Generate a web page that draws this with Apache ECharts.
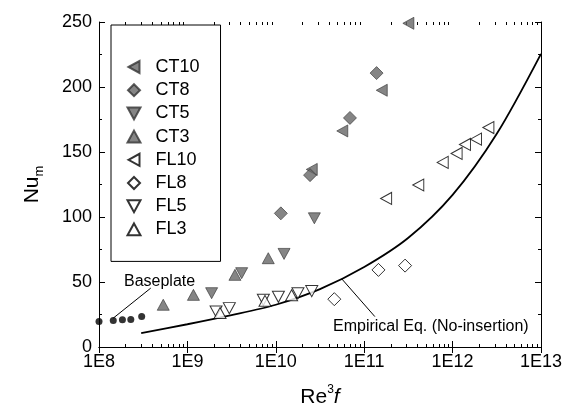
<!DOCTYPE html>
<html>
<head>
<meta charset="utf-8">
<script src="https://cdn.jsdelivr.net/npm/echarts@6/dist/echarts.min.js"></script>
<style>
html, body { margin: 0; padding: 0; background: #fff; }
#chart { width: 577px; height: 415px; }
</style>
</head>
<body>
<div id="chart"></div>
<script>
// tick labels
var xTickLabels = ['1E8', '1E9', '1E10', '1E11', '1E12', '1E13'];
var yTickLabels = ['0', '50', '100', '150', '200', '250'];

// data (x = Re^3 f, y = Nu_m)
var ct10X = [2.55e10, 5.65e10, 1.58e11, 3.16e11];
var ct10Y = [136.6, 166.2, 197.5, 249];
var ct8X = [1.14e10, 2.44e10, 6.9e10, 1.38e11];
var ct8Y = [102.8, 132.2, 176.2, 210.7];
var ct5X = [1.88e9, 4.11e9, 1.24e10, 2.73e10];
var ct5Y = [41.4, 56.8, 71.6, 99.0];
var ct3X = [5.33e8, 1.17e9, 3.45e9, 8.22e9];
var ct3Y = [32.5, 40.1, 55.5, 68.3];
var fl10X = [1.77e11, 4.09e11, 7.73e11, 1.11e12, 1.38e12, 1.84e12, 2.54e12];
var fl10Y = [114.3, 124.6, 142.0, 148.9, 155.8, 159.9, 168.8];
var fl8X = [4.59e10, 1.45e11, 2.9e11];
var fl8Y = [36.8, 59.3, 62.6];
var fl5X = [2.11e9, 2.98e9, 7.23e9, 1.07e10, 1.78e10, 2.55e10];
var fl5Y = [27.3, 29.9, 36.3, 38.6, 41.4, 43.0];
var fl3X = [2.34e9, 7.55e9, 1.51e10];
var fl3Y = [26.1, 35.5, 39.8];
var baseX = [1.0e8, 1.45e8, 1.84e8, 2.29e8, 3.04e8];
var baseY = [19.6, 20.4, 21.0, 21.2, 23.5];
// empirical correlation (no insertion)
var empX = [3.0e8, 1e9, 3.16e9, 1e10, 3.16e10, 1e11, 3.16e11, 1e12, 3.16e12, 1e13];
var empY = [10.7, 17.5, 24.5, 32.5, 44.5, 61.5, 84, 117, 164, 225.5];

function pairs(xs, ys) {
  return xs.map(function (x, i) { return [x, ys[i]]; });
}

// minor tick positions (log10 space) for 2..9 inside every decade
var minorTicks = [];
for (var d = 8; d < 13; d++) {
  for (var k = 2; k <= 9; k++) minorTicks.push(d + Math.log10(k));
}

var FONT = 'Liberation Sans';
var GRAY = '#666666';

var LEFT_TRI = 'path://M0,6L11,0L11,12Z';
var DOWN_TRI = 'path://M0,0L12,0L6,11Z';
var UP_TRI = 'path://M6,0L12,11L0,11Z';
var DIAMOND = 'path://M6.5,0L13,6.5L6.5,13L0,6.5Z';

function marker(name, xs, ys, symbol, size, filled) {
  return {
    name: name,
    type: 'scatter',
    data: pairs(xs, ys),
    symbol: symbol,
    symbolSize: size,
    itemStyle: {
      color: filled ? GRAY : '#ffffff',
      borderColor: filled ? '#333333' : '#000000',
      borderWidth: filled ? 0.8 : 1
    },
    emphasis: { disabled: true },
    z: 3
  };
}

var chart = echarts.init(document.getElementById('chart'), null, { renderer: 'canvas' });

var tickAxis = function (pos) {
  return {
    type: 'value',
    position: pos,
    min: 8,
    max: 13,
    axisLine: { show: false },
    axisTick: { show: true, inside: true, length: 3, customValues: minorTicks, lineStyle: { color: '#000' } },
    axisLabel: { show: false },
    splitLine: { show: false }
  };
};

var option = {
  backgroundColor: '#ffffff',
  animation: false,
  textStyle: { fontFamily: FONT },
  grid: { left: 99, right: 36, top: 22, bottom: 68, containLabel: false, outerBoundsMode: 'none' },
  legend: {
    data: [
      { name: 'CT10', icon: LEFT_TRI },
      { name: 'CT8', icon: DIAMOND },
      { name: 'CT5', icon: DOWN_TRI },
      { name: 'CT3', icon: UP_TRI },
      { name: 'FL10', icon: LEFT_TRI },
      { name: 'FL8', icon: DIAMOND },
      { name: 'FL5', icon: DOWN_TRI },
      { name: 'FL3', icon: UP_TRI }
    ],
    orient: 'vertical',
    left: 111,
    top: 25,
    padding: [33, 21, 23, 15.5],
    itemWidth: 13,
    itemHeight: 12,
    itemGap: 5.2,
    symbolKeepAspect: true,
    borderColor: '#000',
    borderWidth: 1,
    borderRadius: 0,
    backgroundColor: 'transparent',
    selectedMode: false,
    textStyle: { fontFamily: FONT, fontSize: 18, lineHeight: 18, color: '#000', padding: [0, 0, 0, 10] }
  },
  xAxis: [
    {
      type: 'log',
      logBase: 10,
      min: 1e8,
      max: 1e13,
      position: 'bottom',
      name: '{a|Re}{s|3}{f|f}',
      nameLocation: 'middle',
      nameGap: 37,
      nameTextStyle: {
        rich: {
          a: { fontFamily: FONT, fontSize: 21, color: '#000', verticalAlign: 'bottom', lineHeight: 24 },
          s: { fontFamily: FONT, fontSize: 12, color: '#000', verticalAlign: 'top', lineHeight: 12 },
          f: { fontFamily: FONT, fontSize: 21, color: '#000', fontStyle: 'italic', verticalAlign: 'bottom', lineHeight: 24 }
        }
      },
      axisLine: { show: true, lineStyle: { color: '#000', width: 1 } },
      axisTick: { show: true, inside: true, length: 6, lineStyle: { color: '#000' } },
      minorTick: { show: false },
      axisLabel: {
        margin: 6,
        fontFamily: FONT,
        fontSize: 18,
        color: '#000',
        formatter: function (v) { return xTickLabels[Math.round(Math.log10(v)) - 8]; }
      },
      splitLine: { show: false }
    },
    {
      type: 'log',
      logBase: 10,
      min: 1e8,
      max: 1e13,
      position: 'top',
      axisLine: { show: true, lineStyle: { color: '#000', width: 1 } },
      axisTick: { show: true, inside: true, length: 6, lineStyle: { color: '#000' } },
      axisLabel: { show: false },
      splitLine: { show: false }
    },
    tickAxis('bottom'),
    tickAxis('top')
  ],
  yAxis: [
    {
      type: 'value',
      min: 0,
      max: 250,
      interval: 50,
      position: 'left',
      name: '{a|Nu}{b|m}',
      nameLocation: 'middle',
      nameRotate: 90,
      nameGap: 53,
      nameTextStyle: {
        rich: {
          a: { fontFamily: FONT, fontSize: 21, color: '#000', verticalAlign: 'top', lineHeight: 24 },
          b: { fontFamily: FONT, fontSize: 13, color: '#000', verticalAlign: 'bottom', lineHeight: 13, padding: [15, 0, 0, 0] }
        }
      },
      axisLine: { show: true, lineStyle: { color: '#000', width: 1 } },
      axisTick: { show: true, inside: true, length: 6, lineStyle: { color: '#000' } },
      minorTick: { show: true, splitNumber: 2, length: 3, lineStyle: { color: '#000' } },
      axisLabel: {
        margin: 7,
        fontFamily: FONT,
        fontSize: 18,
        color: '#000',
        formatter: function (v) { return yTickLabels[Math.round(v / 50)]; }
      },
      splitLine: { show: false },
      minorSplitLine: { show: false }
    },
    {
      type: 'value',
      min: 0,
      max: 250,
      interval: 50,
      position: 'right',
      axisLine: { show: true, lineStyle: { color: '#000', width: 1 } },
      axisTick: { show: true, inside: true, length: 6, lineStyle: { color: '#000' } },
      minorTick: { show: true, splitNumber: 2, length: 3, lineStyle: { color: '#000' } },
      axisLabel: { show: false },
      splitLine: { show: false }
    }
  ],
  graphic: [
    { type: 'text', left: 124, top: 274, style: { text: 'Baseplate', font: '16px "Liberation Sans"', fill: '#000' } },
    { type: 'text', left: 333, top: 319, style: { text: 'Empirical Eq. (No-insertion)', font: '16px "Liberation Sans"', fill: '#000' } }
  ],
  series: [
    {
      name: 'Empirical',
      type: 'line',
      data: pairs(empX, empY),
      smooth: 0.3,
      showSymbol: false,
      lineStyle: { color: '#000', width: 1.8 },
      emphasis: { disabled: true },
      z: 2,
      markLine: {
        silent: true,
        symbol: 'none',
        label: { show: false },
        lineStyle: { color: '#000', width: 1, type: 'solid' },
        data: [
          [{ coord: [5.56e10, 52.5] }, { coord: [1.32e11, 23.4] }],
          [{ coord: [1.45e8, 22.2] }, { coord: [3.85e8, 45.3] }]
        ]
      }
    },
    {
      name: 'Baseplate',
      type: 'scatter',
      data: pairs(baseX, baseY),
      symbol: 'circle',
      symbolSize: 7,
      itemStyle: { color: '#000' },
      emphasis: { disabled: true },
      z: 3
    },
    marker('CT10', ct10X, ct10Y, LEFT_TRI, [11, 12], true),
    marker('CT8', ct8X, ct8Y, DIAMOND, 13, true),
    marker('CT5', ct5X, ct5Y, DOWN_TRI, [12, 11], true),
    marker('CT3', ct3X, ct3Y, UP_TRI, [12, 11], true),
    marker('FL10', fl10X, fl10Y, LEFT_TRI, [11, 12], false),
    marker('FL8', fl8X, fl8Y, DIAMOND, 13, false),
    marker('FL5', fl5X, fl5Y, DOWN_TRI, [12, 11], false),
    marker('FL3', fl3X, fl3Y, UP_TRI, [12, 11], false)
  ]
};

chart.setOption(option);
</script>
</body>
</html>
